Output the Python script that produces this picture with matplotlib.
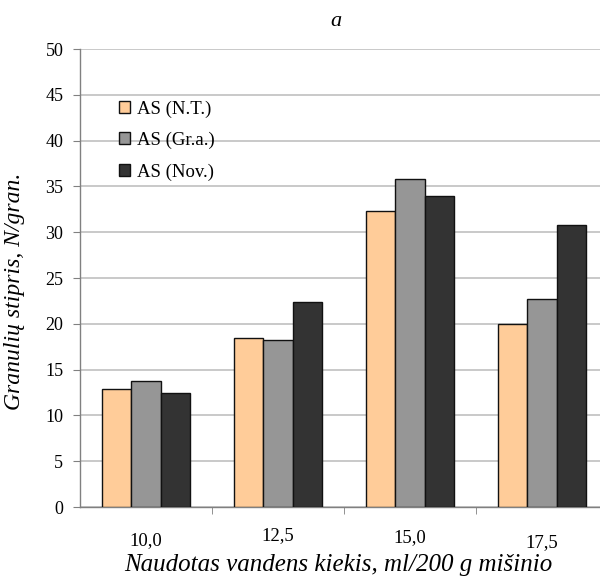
import matplotlib
matplotlib.use("Agg")
import matplotlib.pyplot as plt
import matplotlib.transforms as mtransforms
import numpy as np

categories = ["10,0", "12,5", "15,0", "17,5"]
series_names = ["AS (N.T.)", "AS (Gr.a.)", "AS (Nov.)"]
as_nt = [12.9, 18.4, 32.3, 20.0]
as_gra = [13.8, 18.2, 35.8, 22.7]
as_nov = [12.5, 22.4, 33.9, 30.8]
colors = ["#FFCC99", "#969696", "#333333"]

plt.rcParams["font.family"] = ["Liberation Serif", "DejaVu Serif"]

fig = plt.figure(figsize=(6.0, 5.78), dpi=100)
ax = fig.add_axes([0.1333, 0.1228, 0.88, 0.7924])

x = np.arange(len(categories))
w = 0.222
for i, (vals, name, c) in enumerate(zip([as_nt, as_gra, as_nov], series_names, colors)):
    ax.bar(x + (i - 1) * w, vals, width=w, color=c, edgecolor="#111111",
           linewidth=1.0, label=name, zorder=3)

ax.set_xlim(-0.5, len(categories) - 0.5)
ax.set_ylim(0, 50)
ax.set_yticks(np.arange(0, 51, 5))
ax.yaxis.grid(True, color="#c0c0c0", linewidth=1.2, zorder=0)
ax.set_axisbelow(True)

for s in ["top", "right"]:
    ax.spines[s].set_visible(False)
for s in ["left", "bottom"]:
    ax.spines[s].set_color("#808080")
    ax.spines[s].set_linewidth(1.0)

ax.tick_params(axis="y", direction="out", length=5, color="#808080",
               labelsize=13, pad=7)
ax.set_xticks(x)
ax.set_xticklabels(categories, fontsize=13.5)
ax.tick_params(axis="x", which="major", length=0, pad=15)
ax.set_xticks(np.arange(0.5, len(categories) - 0.5, 1.0), minor=True)
ax.tick_params(axis="x", which="minor", direction="out", length=5,
               color="#808080")

# slight vertical stagger of category labels
shifts = [0.04, -0.01, 0.01, 0.06]
for lab, dy in zip(ax.get_xticklabels(), shifts):
    lab.set_transform(lab.get_transform() +
                      mtransforms.ScaledTranslation(0, -dy, fig.dpi_scale_trans))

ax.set_ylabel("Granulių stipris, N/gran.", fontsize=17, style="italic")
ax.yaxis.set_label_coords(-0.105, 0.47)
ax.set_xlabel("Naudotas vandens kiekis, ml/200 g mišinio", fontsize=18,
              style="italic")
ax.xaxis.set_label_coords(0.49, -0.102)

fig.text(0.56, 0.962, "a", fontsize=16, style="italic", ha="center", va="center")

leg = ax.legend(loc="upper left", bbox_to_anchor=(0.042, 0.925), frameon=False,
                fontsize=13.5, handlelength=0.6, handleheight=0.6,
                handletextpad=0.35, labelspacing=0.76)

fig.savefig("out.png", dpi=100)
